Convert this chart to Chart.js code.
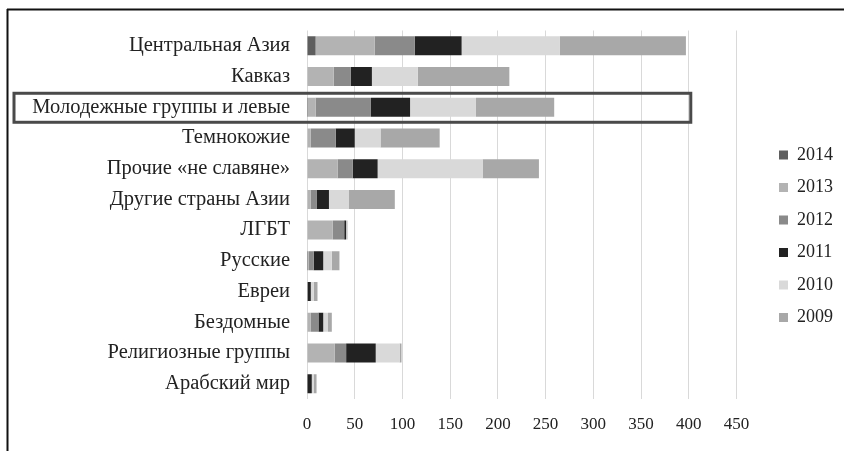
<!DOCTYPE html>
<html>
<head>
<meta charset="utf-8">
<script src="https://cdn.jsdelivr.net/npm/chart.js@4/dist/chart.umd.min.js"></script>
<style>
  body { margin: 0; background: #fff; }
  #wrap { width: 844px; height: 451px; position: relative; }
</style>
</head>
<body>
<div id="wrap"><canvas id="chart" width="844" height="451"></canvas></div>
<script>
const categories = ['Центральная Азия', 'Кавказ', 'Молодежные группы и левые', 'Темнокожие',
  'Прочие «не славяне»', 'Другие страны Азии', 'ЛГБТ', 'Русские', 'Евреи', 'Бездомные',
  'Религиозные группы', 'Арабский мир'];

const v2014 = [9, 0, 1, 0, 0, 0, 0, 1, 1, 0, 0, 0];
const v2013 = [62, 28, 8, 4, 32, 4, 27, 1, 0, 4, 29, 0];
const v2012 = [42, 18, 58, 26, 16, 6, 12, 5, 0, 8, 12, 0];
const v2011 = [49, 22, 41, 20, 26, 13, 2, 10, 3, 5, 31, 5];
const v2010 = [103, 48, 69, 27, 110, 21, 2, 9, 3, 5, 25, 2];
const v2009 = [132, 96, 82, 62, 59, 48, 0, 8, 4, 4, 2, 3];

const xTicks = [0, 50, 100, 150, 200, 250, 300, 350, 400, 450];
const highlighted = 'Молодежные группы и левые';

const serif = '"Liberation Serif", "DejaVu Serif", serif';

// legend sits further right (and a bit higher) than Chart.js would put it
const legendShift = {
  id: 'legendShift',
  afterLayout(chart) {
    const lg = chart.legend;
    const w = lg.width;
    lg.left = 779 - lg.options.labels.padding;
    lg.right = lg.left + w;
    lg.top -= 4;
    lg.bottom -= 4;
  }
};

// рамка сверху/слева и выделение строки
const framePlugin = {
  id: 'frame',
  afterDraw(chart) {
    const ctx = chart.ctx;
    const x = chart.scales.x, y = chart.scales.y;
    ctx.save();
    ctx.strokeStyle = '#111';
    ctx.lineWidth = 2;
    ctx.beginPath();
    ctx.moveTo(7, 9.5);
    ctx.lineTo(844, 9.5);
    ctx.moveTo(7.5, 9);
    ctx.lineTo(7.5, 451);
    ctx.stroke();

    const i = categories.indexOf(highlighted);
    const cy = y.getPixelForValue(i);
    const right = x.getPixelForValue(400) + 2;
    ctx.strokeStyle = '#4a4a4a';
    ctx.lineWidth = 3;
    ctx.strokeRect(14, cy - 14, right - 14, 29);
    ctx.restore();
  }
};

new Chart(document.getElementById('chart'), {
  type: 'bar',
  data: {
    labels: categories,
    datasets: [
      { label: '2014', data: v2014, backgroundColor: '#5e5e5e' },
      { label: '2013', data: v2013, backgroundColor: '#b3b3b3' },
      { label: '2012', data: v2012, backgroundColor: '#8a8a8a' },
      { label: '2011', data: v2011, backgroundColor: '#222222' },
      { label: '2010', data: v2010, backgroundColor: '#d9d9d9' },
      { label: '2009', data: v2009, backgroundColor: '#a8a8a8' }
    ]
  },
  options: {
    indexAxis: 'y',
    responsive: false,
    animation: false,
    categoryPercentage: 0.62,
    barPercentage: 1,
    layout: { padding: { top: 30.5, bottom: 1, left: 0, right: 29 } },
    plugins: {
      tooltip: { enabled: false },
      legend: {
        position: 'right',
        labels: {
          boxWidth: 9,
          boxHeight: 9,
          padding: 14.5,
          color: '#222',
          font: { family: serif, size: 18 }
        }
      }
    },
    scales: {
      x: {
        stacked: true,
        min: 0,
        max: 450,
        afterBuildTicks(scale) { scale.ticks = xTicks.map(v => ({ value: v })); },
        grid: { color: '#d9d9d9', drawTicks: false },
        border: { display: false },
        ticks: { padding: 17, color: '#222', font: { family: serif, size: 17, lineHeight: 1 } }
      },
      y: {
        stacked: true,
        afterFit(scale) { scale.width = 307; },
        grid: { display: false, drawTicks: false },
        border: { display: false },
        ticks: { padding: 17, color: '#222', font: { family: serif, size: 20.5 } }
      }
    }
  },
  plugins: [legendShift, framePlugin]
});
</script>
</body>
</html>
